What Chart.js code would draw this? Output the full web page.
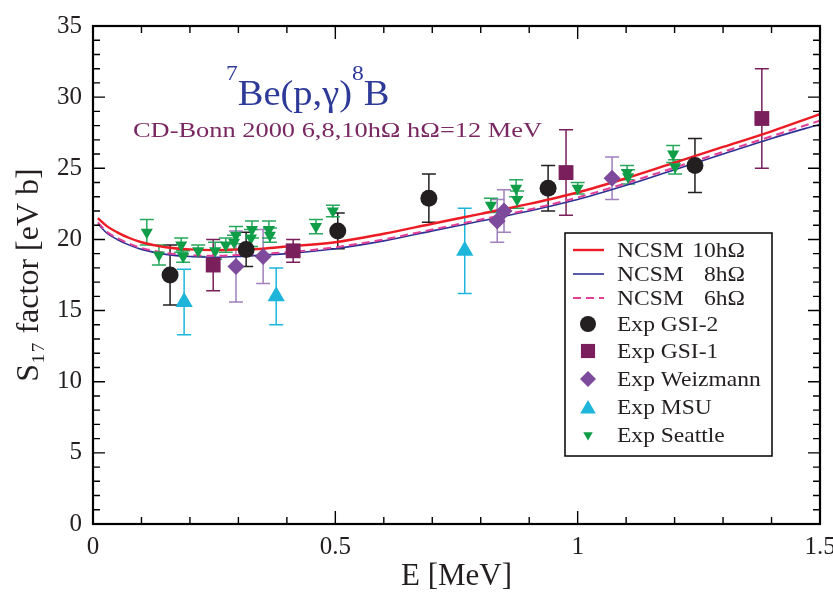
<!DOCTYPE html>
<html>
<head>
<meta charset="utf-8">
<script src="https://cdn.jsdelivr.net/npm/chart.js@4.4.0/dist/chart.umd.min.js"></script>
<style>
html,body{margin:0;padding:0;background:#fff;}
canvas{display:block;}
</style>
</head>
<body>
<canvas id="c" width="833" height="595" style="width:833px;height:595px"></canvas>
<script>
// ---------------- data ----------------
const theoryE   = [0.01,0.03,0.05,0.075,0.1,0.15,0.2,0.25,0.3,0.35,0.4,0.5,0.6,0.7,0.8,0.9,1.0,1.1,1.2,1.3,1.4,1.5];
const ncsm10    = [21.5,20.9,20.5,20.1,19.8,19.45,19.3,19.25,19.3,19.35,19.5,19.8,20.4,21.1,21.8,22.5,23.3,24.3,25.4,26.5,27.6,28.8];
const ncsm8     = [21.1,20.4,20.0,19.6,19.3,18.95,18.8,18.75,18.8,18.9,19.0,19.35,19.9,20.6,21.3,22.0,22.8,23.8,24.9,26.0,27.1,28.1];
const ncsm6     = [21.2,20.5,20.1,19.7,19.4,19.05,18.9,18.85,18.9,19.0,19.1,19.45,20.0,20.7,21.4,22.1,22.95,23.95,25.05,26.15,27.25,28.35];

const gsi2E   = [0.159,0.316,0.505,0.693,0.939,1.242];
const gsi2S   = [17.5,19.3,20.6,22.9,23.6,25.2];
const gsi2Err = [2.1,1.2,1.25,1.7,1.6,1.9];

const gsi1E   = [0.248,0.413,0.976,1.380];
const gsi1S   = [18.2,19.2,24.7,28.5];
const gsi1Err = [1.8,0.8,3.0,3.5];

const weizE   = [0.295,0.351,0.834,0.848,1.071];
const weizS   = [18.1,18.8,21.3,22.0,24.3];
const weizErr = [2.5,1.9,1.5,1.5,1.5];

const msuE    = [0.188,0.378,0.767];
const msuS    = [15.6,16.0,19.2];
const msuErr  = [2.3,2.0,3.0];

const seaE    = [0.111,0.136,0.182,0.186,0.217,0.252,0.274,0.291,0.295,0.326,0.328,0.363,0.365,0.460,0.495,0.821,0.873,0.875,1.000,1.102,1.104,1.197,1.201];
const seaS    = [20.5,18.9,19.6,18.8,19.2,19.2,19.6,19.8,20.3,20.1,20.7,20.7,20.3,20.9,22.0,22.4,23.6,22.8,23.6,24.7,24.4,26.0,25.1];
const seaErr  = [0.9,0.7,0.5,0.4,0.4,0.6,0.5,0.5,0.6,0.6,0.6,0.6,0.5,0.5,0.4,0.5,0.6,0.6,0.4,0.5,0.5,0.6,0.5];

const xTicksMajor = [0,0.5,1,1.5];
const yTicksMajor = [0,5,10,15,20,25,30,35];

const titleText    = ['7','Be(p,γ)','8','B'];
const subtitleText = 'CD-Bonn 2000 6,8,10hΩ hΩ=12 MeV';
const legendLabels = ['NCSM 10hΩ','NCSM   8hΩ','NCSM   6hΩ','Exp GSI-2','Exp GSI-1','Exp Weizmann','Exp MSU','Exp Seattle'];

// ---------------- styles ----------------
const SERIF = "'Liberation Serif','Times New Roman',serif";
const C = {
  red:'#ec1c24', blue:'#2e3192', pink:'#e43f96',
  gsi2:'#231f20', gsi1:'#7a1f5c', weiz:'#7d4a9c', weizBar:'#a080bd',
  msu:'#1db6da', sea:'#0f9d48', seaBar:'#27a85c',
  title:'#2e3a98', sub:'#7a2862'
};

const pts = (xs, ys) => xs.map((x,i)=>({x:x, y:ys[i]}));

const expSets = [
  {label:'Exp GSI-2', E:gsi2E, S:gsi2S, err:gsi2Err, color:C.gsi2, bar:C.gsi2, style:'circle', r:8.5, rot:0},
  {label:'Exp GSI-1', E:gsi1E, S:gsi1S, err:gsi1Err, color:C.gsi1, bar:C.gsi1, style:'rect', r:10.5, rot:0},
  {label:'Exp Weizmann', E:weizE, S:weizS, err:weizErr, color:C.weiz, bar:C.weizBar, style:'rectRot', r:8.5, rot:0},
  {label:'Exp MSU', E:msuE, S:msuS, err:msuErr, color:C.msu, bar:C.msu, style:'triangle', r:10, rot:0},
  {label:'Exp Seattle', E:seaE, S:seaS, err:seaErr, color:C.sea, bar:C.seaBar, style:'triangle', r:7, rot:180},
];

const datasets = [];
expSets.forEach((s, k) => {
  datasets.push({
    label: s.label, data: pts(s.E, s.S), showLine:false,
    pointStyle: s.style, pointRadius: s.r, pointRotation: s.rot,
    backgroundColor: s.color, borderColor: s.color, pointBorderWidth: 0,
    order: 1, errs: s.err, barColor: s.bar
  });
});
datasets.push({label:'NCSM 6hΩ', data: pts(theoryE, ncsm6), showLine:true, borderColor:C.pink, borderWidth:2, borderDash:[8,5], pointRadius:0, cubicInterpolationMode:'monotone', order:5});
datasets.push({label:'NCSM 8hΩ', data: pts(theoryE, ncsm8), showLine:true, borderColor:C.blue, borderWidth:1.6, pointRadius:0, cubicInterpolationMode:'monotone', order:6});
datasets.push({label:'NCSM 10hΩ', data: pts(theoryE, ncsm10), showLine:true, borderColor:C.red, borderWidth:2.4, pointRadius:0, cubicInterpolationMode:'monotone', order:4});

// ---------------- plugins ----------------
const errorBars = {
  id:'errorBars',
  beforeDatasetsDraw(chart){
    const ctx = chart.ctx, ys = chart.scales.y;
    ctx.save();
    chart.data.datasets.forEach((ds, i) => {
      if (!ds.errs) return;
      const meta = chart.getDatasetMeta(i);
      ctx.strokeStyle = ds.barColor; ctx.lineWidth = 1.5;
      meta.data.forEach((el, j) => {
        const v = ds.data[j].y, e = ds.errs[j];
        const yt = ys.getPixelForValue(v + e), yb = ys.getPixelForValue(v - e);
        const x = el.x, w = 7;
        ctx.beginPath();
        ctx.moveTo(x, yt); ctx.lineTo(x, yb);
        ctx.moveTo(x - w, yt); ctx.lineTo(x + w, yt);
        ctx.moveTo(x - w, yb); ctx.lineTo(x + w, yb);
        ctx.stroke();
      });
    });
    ctx.restore();
  }
};

const frameTicks = {
  id:'frameTicks',
  afterDraw(chart){
    const ctx = chart.ctx, a = chart.chartArea, xs = chart.scales.x, ys = chart.scales.y;
    ctx.save();
    ctx.strokeStyle = '#000'; ctx.lineWidth = 1.4;
    ctx.beginPath();
    for (let k = 0; k <= 15; k++) {
      const v = k / 10, px = xs.getPixelForValue(v);
      const L = (k % 5 === 0) ? 13 : 7;
      ctx.moveTo(px, a.bottom); ctx.lineTo(px, a.bottom - L);
      ctx.moveTo(px, a.top); ctx.lineTo(px, a.top + L);
    }
    for (let k = 0; k <= 35; k++) {
      const py = ys.getPixelForValue(k);
      const L = (k % 5 === 0) ? 12 : 7;
      ctx.moveTo(a.left, py); ctx.lineTo(a.left + L, py);
      ctx.moveTo(a.right, py); ctx.lineTo(a.right - L, py);
    }
    ctx.stroke();
    ctx.lineWidth = 2.2;
    ctx.strokeRect(a.left, a.top, a.right - a.left, a.bottom - a.top);
    ctx.restore();
  }
};

function stretchText(ctx, txt, x, y, sx){
  ctx.save(); ctx.translate(x, y); ctx.scale(sx, 1); ctx.fillText(txt, 0, 0); ctx.restore();
  return ctx.measureText(txt).width * sx;
}

function drawMarker(ctx, style, x, y, r, rot, color){
  ctx.save(); ctx.fillStyle = color; ctx.translate(x, y); ctx.rotate(rot*Math.PI/180);
  ctx.beginPath();
  if (style === 'circle') { ctx.arc(0,0,r,0,Math.PI*2); }
  else if (style === 'rect') { const s = r*Math.SQRT1_2; ctx.rect(-s,-s,2*s,2*s); }
  else if (style === 'rectRot') { ctx.moveTo(0,-r); ctx.lineTo(r,0); ctx.lineTo(0,r); ctx.lineTo(-r,0); ctx.closePath(); }
  else if (style === 'triangle') {
    ctx.moveTo(0,-r); ctx.lineTo(r*Math.sin(2*Math.PI/3), -r*Math.cos(2*Math.PI/3));
    ctx.lineTo(-r*Math.sin(2*Math.PI/3), -r*Math.cos(2*Math.PI/3)); ctx.closePath();
  }
  ctx.fill(); ctx.restore();
}

const annotations = {
  id:'annotations',
  afterDraw(chart){
    const ctx = chart.ctx;
    ctx.save();
    ctx.textBaseline = 'alphabetic'; ctx.textAlign = 'left';
    // title
    ctx.fillStyle = C.title;
    let x = 226;
    ctx.font = `21px ${SERIF}`; x += stretchText(ctx, titleText[0], x, 80, 1.12);
    ctx.font = `35px ${SERIF}`; x += stretchText(ctx, titleText[1], x, 105, 1.1);
    ctx.font = `21px ${SERIF}`; x += stretchText(ctx, titleText[2], x, 80, 1.12);
    ctx.font = `35px ${SERIF}`; x += stretchText(ctx, titleText[3], x, 105, 1.1);
    // subtitle
    ctx.fillStyle = C.sub; ctx.font = `22px ${SERIF}`;
    stretchText(ctx, subtitleText, 133, 137, 1.2);

    // legend
    const L = {l:565, t:233, r:772, b:456};
    ctx.fillStyle = '#fff'; ctx.fillRect(L.l, L.t, L.r-L.l, L.b-L.t);
    ctx.strokeStyle = '#000'; ctx.lineWidth = 1.5; ctx.strokeRect(L.l, L.t, L.r-L.l, L.b-L.t);
    const rows = [250,274,298,324,351,379,407,435];
    const lineStyles = [[C.red,2.4,[]],[C.blue,1.6,[]],[C.pink,2,[8,5]]];
    for (let i = 0; i < 3; i++) {
      ctx.strokeStyle = lineStyles[i][0]; ctx.lineWidth = lineStyles[i][1]; ctx.setLineDash(lineStyles[i][2]);
      ctx.beginPath(); ctx.moveTo(573, rows[i]); ctx.lineTo(604, rows[i]); ctx.stroke();
    }
    ctx.setLineDash([]);
    const lm = [['circle',8,0,C.gsi2],['rect',10,0,C.gsi1],['rectRot',8,0,C.weiz],['triangle',9,0,C.msu],['triangle',5.5,180,C.sea]];
    lm.forEach((m, k) => drawMarker(ctx, m[0], 588, rows[k+3] + (m[0]==='triangle' && m[2]===0 ? 2 : 0), m[1], m[2], m[3]));
    ctx.fillStyle = '#231f20'; ctx.font = `21px ${SERIF}`; ctx.textBaseline = 'middle';
    legendLabels.forEach((t, k) => {
      if (k < 3) {
        const parts = t.split(/\s+/);
        stretchText(ctx, parts[0], 617, rows[k] + 1, 1.12);
        ctx.save(); ctx.translate(745, rows[k] + 1); ctx.scale(1.12, 1); ctx.textAlign = 'right'; ctx.fillText(parts[1], 0, 0); ctx.restore();
      } else {
        stretchText(ctx, t, 617, rows[k] + 1, 1.12);
      }
    });
    ctx.restore();
  }
};

// ---------------- chart ----------------
new Chart(document.getElementById('c').getContext('2d'), {
  type: 'scatter',
  data: { datasets: datasets },
  options: {
    responsive: false, animation: false, devicePixelRatio: 1,
    layout: { padding: { top: 16, right: 13, left: 0, bottom: 0 } },
    plugins: { legend: { display: false }, tooltip: { enabled: false } },
    elements: { line: { tension: 0 } },
    scales: {
      x: {
        type: 'linear', min: 0, max: 1.5, position: 'bottom',
        afterBuildTicks: s => { s.ticks = xTicksMajor.map(v => ({value: v})); },
        ticks: { color: '#231f20', font: { family: SERIF, size: 25 }, padding: 8, maxRotation: 0, callback: v => String(v) },
        grid: { display: false, drawTicks: false },
        border: { display: true, color: '#000', width: 2 },
        title: { display: true, text: 'E [MeV]', color: '#231f20', font: { family: SERIF, size: 31 }, padding: { top: 0, bottom: 0 } },
        afterFit: s => { s.height = 71; s.paddingRight = 13; }
      },
      y: {
        type: 'linear', min: 0, max: 35, position: 'left',
        afterBuildTicks: s => { s.ticks = yTicksMajor.map(v => ({value: v})); },
        ticks: { color: '#231f20', font: { family: SERIF, size: 25 }, padding: 11, callback: v => String(v) },
        grid: { display: false, drawTicks: false },
        border: { display: true, color: '#000', width: 2 },
        title: { display: true, text: 'S₁₇ factor [eV b]', color: '#231f20', font: { family: SERIF, size: 32 }, padding: { top: 10, bottom: 0 } },
        afterFit: s => { s.width = 93; }
      }
    }
  },
  plugins: [errorBars, frameTicks, annotations]
});
</script>
</body>
</html>
